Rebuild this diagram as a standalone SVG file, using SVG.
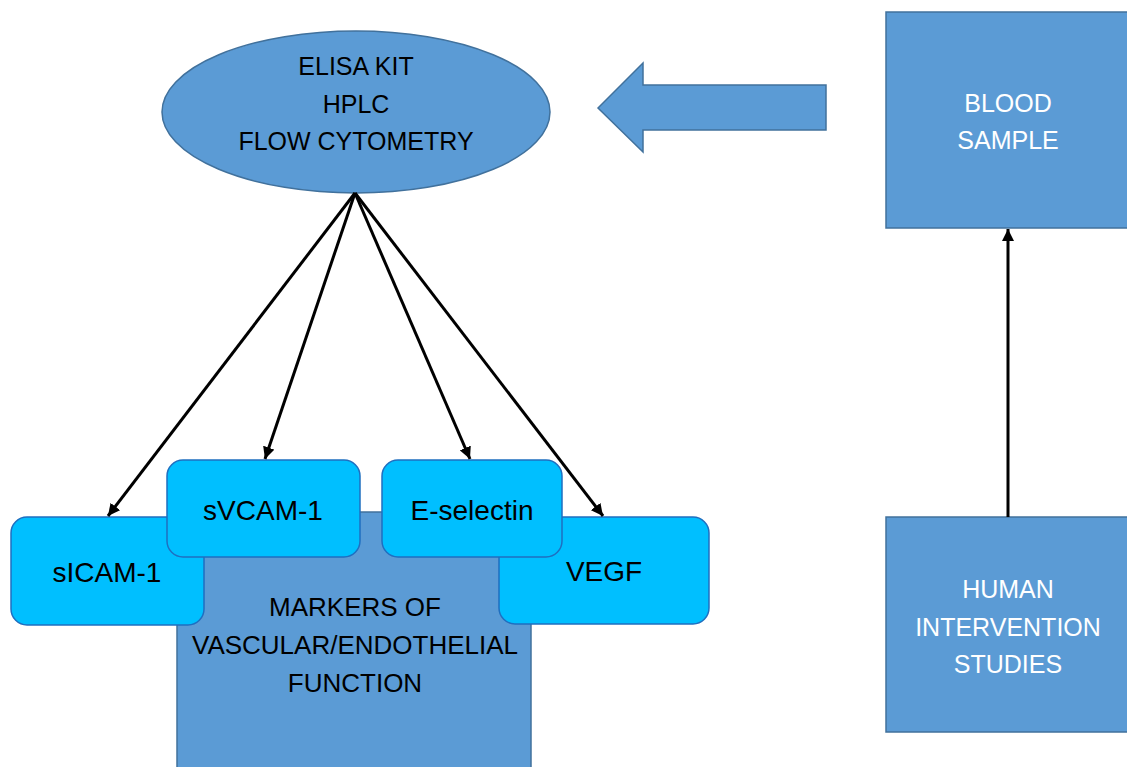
<svg xmlns="http://www.w3.org/2000/svg" width="1127" height="767" viewBox="0 0 1127 767">
  <defs>
    <marker id="head" viewBox="0 0 10 10" refX="10" refY="5" markerWidth="4" markerHeight="4" orient="auto" markerUnits="strokeWidth">
      <path d="M0,0 L10,5 L0,10 Z" fill="#000"/>
    </marker>
    <style>
      .blue { fill: #5B9BD5; stroke: #41719C; stroke-width: 1.5; }
      .cyan { fill: #00BFFF; stroke: #1F6FC0; stroke-width: 1.5; }
      .t { font-family: "Liberation Sans", Arial, sans-serif; text-anchor: middle; }
      .dark { fill: #000; }
      .light { fill: #fff; }
      .link { stroke: #000; stroke-width: 3; fill: none; marker-end: url(#head); }
    </style>
  </defs>
  <rect width="1127" height="767" fill="#fff"/>

  <!-- methods -->
  <g id="methods">
    <ellipse class="blue" cx="356" cy="112" rx="194" ry="81"/>
    <text class="t dark" font-size="25" x="356" y="75">ELISA KIT</text>
    <text class="t dark" font-size="25" x="356" y="113">HPLC</text>
    <text class="t dark" font-size="25" x="356" y="150">FLOW CYTOMETRY</text>
  </g>

  <!-- block arrow pointing from sample to methods -->
  <g id="block-arrow">
    <polygon class="blue" points="598,108 643,63 643,85 826,85 826,130 643,130 643,152"/>
  </g>

  <g id="blood-sample">
    <rect class="blue" x="886" y="12" width="246" height="216"/>
    <text class="t light" font-size="25" x="1008" y="112">BLOOD</text>
    <text class="t light" font-size="25" x="1008" y="149">SAMPLE</text>
  </g>

  <g id="human-studies">
    <rect class="blue" x="886" y="517" width="246" height="215"/>
    <text class="t light" font-size="25" x="1008" y="598">HUMAN</text>
    <text class="t light" font-size="25" x="1008" y="636">INTERVENTION</text>
    <text class="t light" font-size="25" x="1008" y="673">STUDIES</text>
  </g>

  <g id="markers">
    <rect class="blue" x="177" y="512" width="354" height="270"/>
    <text class="t dark" font-size="26" x="355" y="616">MARKERS OF</text>
    <text class="t dark" font-size="26" x="355" y="654">VASCULAR/ENDOTHELIAL</text>
    <text class="t dark" font-size="26" x="355" y="692">FUNCTION</text>
  </g>

  <g id="sicam">
    <rect class="cyan" x="11" y="517" width="193" height="108" rx="16"/>
    <text class="t dark" font-size="28" x="107" y="582">sICAM-1</text>
  </g>

  <g id="vegf">
    <rect class="cyan" x="499" y="517" width="210" height="107" rx="16"/>
    <text class="t dark" font-size="28" x="604" y="581">VEGF</text>
  </g>

  <g id="svcam">
    <rect class="cyan" x="167" y="460" width="193" height="97" rx="16"/>
    <text class="t dark" font-size="28" x="263" y="520">sVCAM-1</text>
  </g>

  <g id="e-selectin">
    <rect class="cyan" x="382" y="460" width="180" height="97" rx="16"/>
    <text class="t dark" font-size="28" x="472" y="520">E-selectin</text>
  </g>

  <!-- connectors -->
  <g id="connectors">
    <line class="link" x1="355" y1="193" x2="108" y2="516"/>
    <line class="link" x1="355" y1="193" x2="265" y2="459"/>
    <line class="link" x1="355" y1="193" x2="470" y2="459"/>
    <line class="link" x1="355" y1="193" x2="603" y2="516"/>
    <line class="link" x1="1008" y1="517" x2="1008" y2="229"/>
  </g>
</svg>
